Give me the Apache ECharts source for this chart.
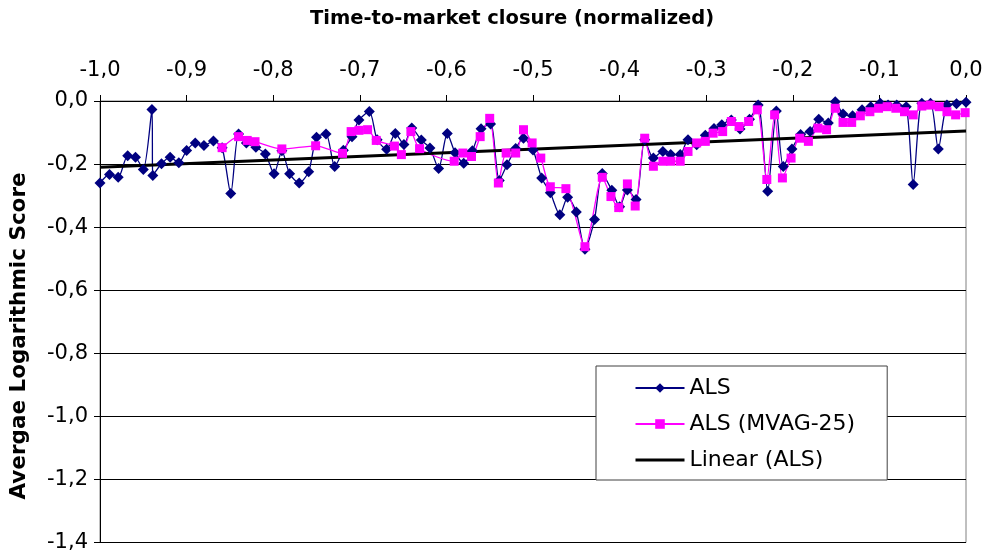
<!DOCTYPE html>
<html>
<head>
<meta charset="utf-8">
<script src="https://cdn.jsdelivr.net/npm/echarts@6/dist/echarts.min.js"></script>
<style>
  html, body { margin: 0; padding: 0; background: #ffffff; }
  #chart { width: 986px; height: 553px; }
</style>
</head>
<body>
<div id="chart"></div>
<script>
// Average logarithmic score against normalized time to market closure
const alsX = [-1.000, -0.989, -0.979, -0.968, -0.959, -0.950, -0.940, -0.939, -0.929, -0.919,
  -0.909, -0.900, -0.890, -0.880, -0.869, -0.859, -0.849, -0.840, -0.831, -0.820,
  -0.809, -0.799, -0.790, -0.781, -0.770, -0.759, -0.750, -0.739, -0.729, -0.719,
  -0.709, -0.701, -0.689, -0.680, -0.669, -0.659, -0.649, -0.640, -0.629, -0.619,
  -0.609, -0.599, -0.590, -0.580, -0.570, -0.560, -0.549, -0.539, -0.530, -0.520,
  -0.511, -0.500, -0.490, -0.480, -0.469, -0.460, -0.450, -0.440, -0.429, -0.420,
  -0.409, -0.400, -0.391, -0.381, -0.371, -0.361, -0.350, -0.341, -0.330, -0.321,
  -0.311, -0.301, -0.291, -0.282, -0.271, -0.261, -0.250, -0.240, -0.229, -0.219,
  -0.211, -0.201, -0.191, -0.180, -0.170, -0.159, -0.151, -0.142, -0.131, -0.120,
  -0.110, -0.099, -0.090, -0.080, -0.069, -0.061, -0.051, -0.041, -0.032, -0.022,
  -0.011, 0.000];
const alsY = [-0.260, -0.233, -0.242, -0.174, -0.178, -0.217, -0.027, -0.236, -0.199, -0.178,
  -0.196, -0.157, -0.133, -0.141, -0.127, -0.148, -0.293, -0.105, -0.133, -0.147,
  -0.168, -0.231, -0.158, -0.231, -0.260, -0.224, -0.115, -0.105, -0.208, -0.156,
  -0.113, -0.060, -0.033, -0.123, -0.153, -0.103, -0.138, -0.086, -0.124, -0.149,
  -0.214, -0.103, -0.164, -0.197, -0.158, -0.088, -0.073, -0.252, -0.202, -0.151,
  -0.118, -0.155, -0.244, -0.291, -0.361, -0.305, -0.352, -0.470, -0.376, -0.230,
  -0.283, -0.335, -0.282, -0.312, -0.123, -0.181, -0.160, -0.170, -0.170, -0.123,
  -0.139, -0.109, -0.087, -0.075, -0.060, -0.089, -0.058, -0.013, -0.286, -0.032,
  -0.208, -0.152, -0.106, -0.097, -0.058, -0.070, -0.002, -0.041, -0.047, -0.028,
  -0.018, -0.007, -0.013, -0.013, -0.018, -0.265, -0.007, -0.007, -0.152, -0.013,
  -0.009, -0.004];

// Moving average (25 observations)
const mvagX = [-0.859, -0.840, -0.830, -0.821, -0.790, -0.751, -0.720, -0.710, -0.701, -0.691,
  -0.681, -0.660, -0.652, -0.641, -0.631, -0.591, -0.581, -0.571, -0.561, -0.550,
  -0.540, -0.531, -0.520, -0.511, -0.501, -0.491, -0.480, -0.462, -0.440, -0.420,
  -0.410, -0.401, -0.391, -0.382, -0.371, -0.361, -0.350, -0.341, -0.330, -0.321,
  -0.311, -0.301, -0.292, -0.281, -0.271, -0.262, -0.251, -0.241, -0.230, -0.221,
  -0.212, -0.202, -0.192, -0.182, -0.171, -0.161, -0.151, -0.142, -0.132, -0.122,
  -0.111, -0.101, -0.091, -0.081, -0.071, -0.061, -0.051, -0.041, -0.031, -0.022,
  -0.012, -0.001];
const mvagY = [-0.148, -0.113, -0.125, -0.129, -0.152, -0.142, -0.166, -0.097, -0.093, -0.091,
  -0.125, -0.143, -0.170, -0.097, -0.151, -0.191, -0.165, -0.176, -0.113, -0.055,
  -0.260, -0.165, -0.165, -0.091, -0.133, -0.181, -0.272, -0.278, -0.462, -0.242,
  -0.303, -0.338, -0.263, -0.333, -0.118, -0.207, -0.191, -0.191, -0.191, -0.160,
  -0.133, -0.128, -0.102, -0.097, -0.065, -0.081, -0.065, -0.028, -0.249, -0.044,
  -0.244, -0.181, -0.118, -0.128, -0.086, -0.091, -0.023, -0.068, -0.068, -0.047,
  -0.034, -0.023, -0.018, -0.023, -0.034, -0.044, -0.016, -0.013, -0.018, -0.034,
  -0.044, -0.037];

// Linear trend of ALS, end points
const trendX = [-1.0, 0.0];
const trendY = [-0.210, -0.095];

const seriesNames = ['ALS', 'ALS (MVAG-25)', 'Linear (ALS)'];
const xTitle = 'Time-to-market closure (normalized)';
const yTitle = 'Avergae Logarithmic Score';

const zip = (xs, ys) => xs.map((x, i) => [x, ys[i]]);
const commaFmt = v => {
  const s = (Math.abs(v) < 1e-9 ? 0 : v).toFixed(1);
  return s.replace('.', ',');
};
const FONT = '"DejaVu Sans", Verdana, sans-serif';

const chart = echarts.init(document.getElementById('chart'), null, { renderer: 'canvas' });
chart.setOption({
  animation: false,
  backgroundColor: '#ffffff',
  title: {
    text: xTitle, left: 310, top: 9, padding: 0,
    textStyle: { fontFamily: FONT, fontSize: 19.5, fontWeight: 'bold', color: '#000' }
  },
  graphic: [{
    type: 'text', x: 19, y: 336, rotation: Math.PI / 2,
    style: {
      text: yTitle, fontFamily: FONT, fontSize: 21.5, fontWeight: 'bold', fill: '#000',
      textAlign: 'center', textVerticalAlign: 'middle'
    }
  }],
  grid: {
    left: 100, top: 101, right: 20, bottom: 8,
    show: true, borderColor: '#808080', borderWidth: 1, backgroundColor: 'transparent'
  },
  xAxis: {
    type: 'value', position: 'top', min: -1, max: 0, interval: 0.1,
    axisLine: { show: true, onZero: false, lineStyle: { color: '#000', width: 1 } },
    axisTick: { show: true, inside: false, length: 6, lineStyle: { color: '#000' } },
    axisLabel: { formatter: commaFmt, margin: 20, fontFamily: FONT, fontSize: 21, color: '#000' },
    splitLine: { show: false }
  },
  yAxis: {
    type: 'value', min: -1.4, max: 0, interval: 0.2,
    axisLine: { show: true, onZero: false, lineStyle: { color: '#000', width: 1 } },
    axisTick: { show: true, inside: false, length: 6, lineStyle: { color: '#000' } },
    axisLabel: { formatter: commaFmt, margin: 12, fontFamily: FONT, fontSize: 21, color: '#000' },
    splitLine: { show: true, lineStyle: { color: '#000', width: 1 } }
  },
  legend: {
    orient: 'vertical', left: 596, top: 366,
    padding: [11, 32, 9, 38], itemGap: 14, itemWidth: 49, itemHeight: 12, itemTextGap: 4,
    backgroundColor: '#ffffff', borderColor: '#404040', borderWidth: 1,
    textStyle: { fontFamily: FONT, fontSize: 22, color: '#000' },
    data: [
      seriesNames[0],
      seriesNames[1],
      { name: seriesNames[2], itemStyle: { opacity: 0 }, lineStyle: { width: 3, color: '#000' } }
    ]
  },
  series: [
    {
      name: seriesNames[0], type: 'line', data: zip(alsX, alsY),
      smooth: 0.25, symbol: 'diamond', symbolSize: 11,
      itemStyle: { color: '#000080' },
      lineStyle: { color: '#000080', width: 1.3 }
    },
    {
      name: seriesNames[1], type: 'line', data: zip(mvagX, mvagY),
      smooth: 0.25, symbol: 'rect', symbolSize: 9,
      itemStyle: { color: '#ff00ff' },
      lineStyle: { color: '#ff00ff', width: 1.3 }
    },
    {
      name: seriesNames[2], type: 'line', data: zip(trendX, trendY),
      symbol: 'none', itemStyle: { color: '#000' },
      lineStyle: { color: '#000', width: 3 }
    }
  ]
});
</script>
</body>
</html>
